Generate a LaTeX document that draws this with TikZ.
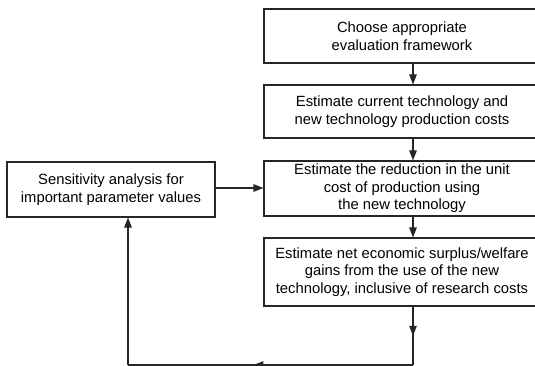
\documentclass[tikz,border=0pt]{standalone}
\usepackage{fontspec}
\setmainfont{Liberation Sans}
\usetikzlibrary{arrows.meta,decorations.markings}
\tikzset{
  box/.style={draw=black!85, line width=1.1pt, align=center, inner sep=0pt,
    font=\fontsize{14.8}{17.6}\selectfont},
  conn/.style={draw=black!85, line width=1.1pt},
  tip/.style={-{Triangle[length=10pt,width=7.5pt]}},
  midtip/.style={postaction={decorate}, decoration={markings,
    mark=at position #1 with {\arrow{Triangle[length=10pt,width=7.5pt]}}}}
}
\begin{document}
\begin{tikzpicture}[x=1pt,y=1pt]
\clip (0,0) rectangle (535,-366);
\fill[white] (0,0) rectangle (535,-366);
\node[box, minimum width=276pt, minimum height=54pt] (b1) at (402,-36)
  {Choose appropriate\\evaluation framework};
\node[box, minimum width=276pt, minimum height=53pt] (b2) at (402,-111.5)
  {Estimate current technology and\\new technology production costs};
\node[box, minimum width=276pt, minimum height=55pt] (b3) at (402,-188.5)
  {Estimate the reduction in the unit\\cost of production using\\the new technology};
\node[box, minimum width=276pt, minimum height=68pt] (b4) at (402,-272)
  {Estimate net economic surplus/welfare\\gains from the use of the new\\technology, inclusive of research costs};
\node[box, minimum width=208pt, minimum height=55pt] (s) at (111,-189.5)
  {Sensitivity analysis for\\important parameter values};
\coordinate (ax) at (413,0);
\coordinate (c1) at (413,-365);
\coordinate (c2) at (128,-365);
\draw[conn, tip] (b1.south -| ax) -- (b2.north -| ax);
\draw[conn, tip] (b2.south -| ax) -- (b3.north -| ax);
\draw[conn, tip] (b3.south -| ax) -- (b4.north -| ax);
\draw[conn, tip] (s.east |- 0,-188) -- (b3.west |- 0,-188);
\draw[conn, midtip=0.5] (b4.south -| ax) -- (c1);
\draw[conn, midtip=0.56] (c1) -- (c2);
\draw[conn, tip] (c2) -- (s.south -| c2);
\end{tikzpicture}
\end{document}
